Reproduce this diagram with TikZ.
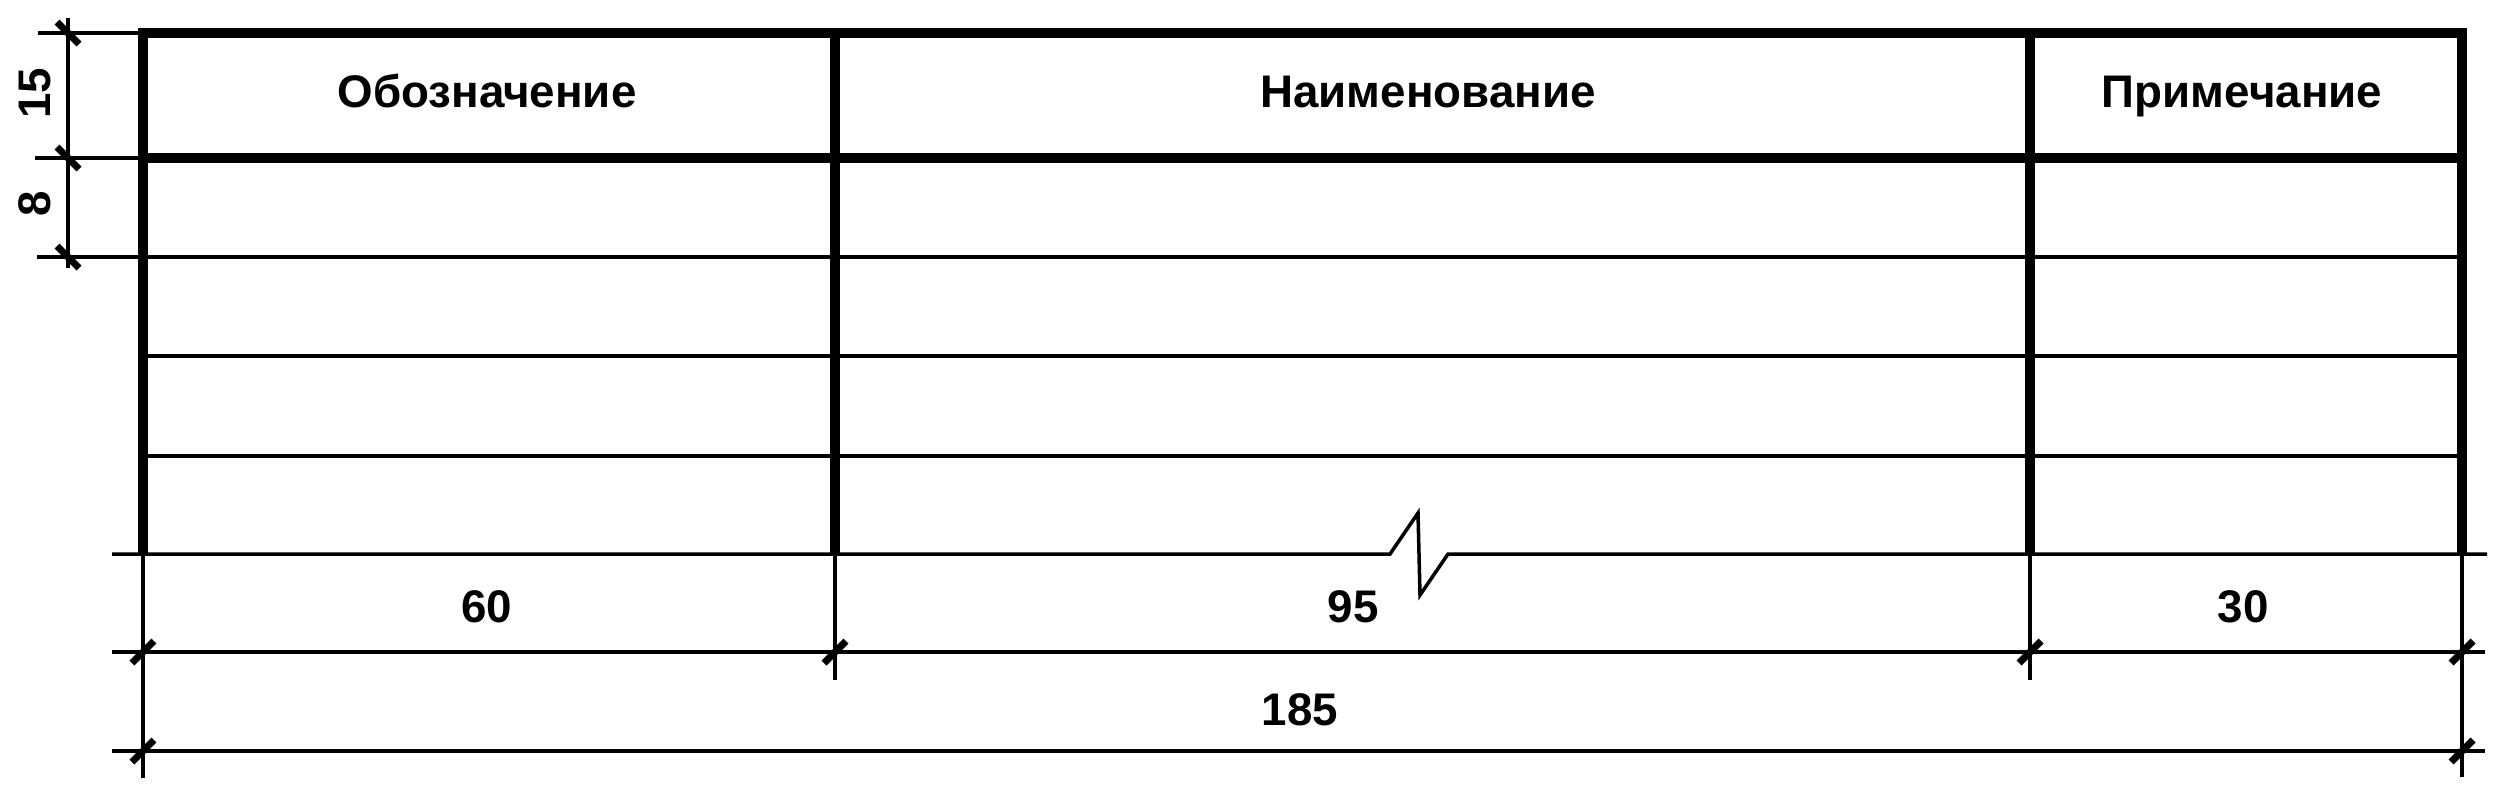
\documentclass[tikz,border=0pt]{standalone}
\usepackage{fontspec}
\setmainfont{Liberation Sans}
\usetikzlibrary{positioning}

\begin{document}
\begin{tikzpicture}[x=0.01cm, y=-0.01cm,
		thickline/.style={line width=2.7pt},
		thinline/.style={line width=1pt},
		dimtick/.style={line width=2pt},
		lbl/.style={font=\fontsize{13}{15}\selectfont\bfseries, inner sep=0pt}]
				\useasboundingbox (0,0) rectangle (2503,793);

				\draw[thinline] (38,33) -- (143,33);
				\draw[thinline] (35,158) -- (143,158);
				\draw[thinline] (37,257) -- (2462,257);
				\foreach \y in {356,456}
					\draw[thinline] (143,\y) -- (2462,\y);
				\draw[thinline] (112,554) -- (1390,554) -- (1418,513)
				-- (1420,595) -- (1448,554) -- (2487,554);
				\foreach \y in {652,751}
					\draw[thinline] (112,\y) -- (2485,\y);
				\draw[thinline] (68,18) -- (68,268);
				\draw[thinline] (143,554) -- (143,778);
				\draw[thinline] (2462,554) -- (2462,777);
				\foreach \x in {835,2030}
					\draw[thinline] (\x,554) -- (\x,680);

				\draw[thickline] (143,554) -- (143,33) -- (2462,33) -- (2462,554);
				\draw[thickline] (143,158) -- (2462,158);
				\foreach \x in {835,2030}
					\draw[thickline] (\x,33) -- (\x,554);

				\foreach \y in {33,158,257}
					\draw[dimtick] (68-11,\y-11) -- (68+11,\y+11);
				\foreach \x in {143,835,2030,2462}
					\draw[dimtick] (\x-11,652+11) -- (\x+11,652-11);
				\foreach \x in {143,2462}
					\draw[dimtick] (\x-11,751+11) -- (\x+11,751-11);

				\node[lbl, anchor=base] (hdesig) at (487,107) {Обозначение};
				\node[lbl, anchor=base] (hname) at (1428,107) {Наименование};
				\node[lbl, anchor=base] (hnote) at (2242,107) {Примечание};
				\node[lbl, anchor=base] (w60) at (487,622) {60};
				\node[lbl, anchor=base] (w95) at (1353,622) {95};
				\node[lbl, anchor=base] (w30) at (2243,622) {30};
				\node[lbl, anchor=base] (w185) at (1300,725) {185};
				\node[lbl, rotate=90] (h15) at (35,93) {15};
				\node[lbl, rotate=90] (h8) at (35,204) {8};
\end{tikzpicture}
\end{document}
